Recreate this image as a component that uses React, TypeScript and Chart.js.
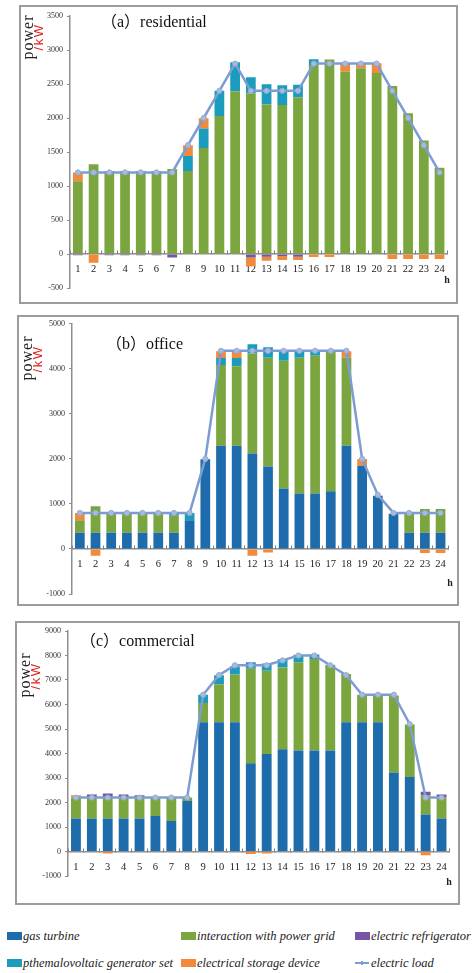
import React, { useEffect, useRef } from "react";
import { Chart, registerables } from "chart.js";
Chart.register(...registerables);

const hours = ["1","2","3","4","5","6","7","8","9","10","11","12","13","14","15","16","17","18","19","20","21","22","23","24"];

// (a) residential
const resGas = [0,0,0,0,0,0,0,0,0,0,0,0,0,0,0,0,0,0,0,0,0,0,0,0];
const resGrid = [1070,1320,1220,1220,1220,1220,1250,1220,1560,2030,2390,2360,2200,2190,2300,2780,2860,2680,2730,2660,2470,2070,1670,1270];
const resPv = [0,0,0,0,0,0,0,220,285,370,430,240,295,290,190,85,0,0,0,0,0,0,0,0];
const resRef = [-20,0,-20,-20,-20,-20,-50,0,0,0,0,-50,-40,-30,-40,0,0,0,0,0,0,0,0,0];
const resSto = [130,-130,0,0,0,0,0,160,150,0,0,-130,-60,-60,-50,-45,-45,120,70,145,-75,-75,-75,-75];
const resLoad = [1200,1200,1200,1200,1200,1200,1200,1600,2000,2400,2800,2400,2400,2400,2400,2800,2800,2800,2800,2800,2400,2000,1600,1200];

// (b) office
const offGas = [360,360,360,360,360,360,360,640,1990,2290,2290,2120,1830,1340,1230,1230,1280,2290,1850,1180,780,360,360,360];
const offGrid = [280,590,440,440,440,440,380,0,0,1795,1765,2220,2415,2840,3015,3060,3110,1960,0,0,0,420,530,530];
const offPv = [0,0,0,0,0,0,60,160,0,155,185,205,235,210,150,100,0,0,0,0,0,0,0,0];
const offRef = [0,0,0,0,0,0,0,0,0,0,0,0,0,0,0,0,0,0,0,0,0,0,0,0];
const offSto = [160,-150,0,0,0,0,0,0,0,150,150,-150,-80,-20,-20,-20,-20,140,150,0,0,0,-90,-90];
const offLoad = [800,800,800,800,800,800,800,800,2000,4400,4400,4400,4400,4400,4400,4400,4400,4400,2000,1200,800,800,800,800];

// (c) commercial
const comGas = [1350,1350,1350,1350,1350,1450,1240,2060,5280,5280,5280,3600,3980,4170,4120,4120,4120,5280,5280,5280,3220,3040,1510,1350];
const comGrid = [850,850,850,850,850,750,960,140,780,1550,1940,3860,3400,3340,3600,3740,3500,1960,1120,1120,3150,2140,790,850];
const comPv = [0,0,0,0,0,0,0,0,340,360,330,260,290,340,310,180,0,0,0,0,0,0,0,0];
const comRef = [0,130,170,130,100,0,0,0,0,0,0,0,0,0,0,0,0,0,0,0,0,0,135,130];
const comSto = [100,0,-80,0,0,0,0,0,0,0,0,-100,-80,0,0,0,0,0,0,0,0,0,-150,0];
const comLoad = [2200,2200,2200,2200,2200,2200,2200,2200,6400,7200,7600,7600,7600,7800,8000,8000,7600,7200,6400,6400,6400,5200,2200,2200];

const seriesNames = ["gas turbine","interaction with power grid","electric refrigerator","pthemalovoltaic generator set","electrical storage device","electric load"];

const C_GAS = "#1F6CAD";
const C_GRID = "#7BA63F";
const C_REF = "#7656A3";
const C_PV = "#1C9CBD";
const C_STO = "#F18A3B";
const C_LOAD = "#7D9DD2";

const SERIF = "'Liberation Serif', 'DejaVu Serif', serif";

type PanelCfg = {
  box: { l: number; t: number; w: number; h: number };
  area: { x0: number; x1: number; y0: number; y1: number };
  min: number; max: number; step: number;
  gas: number[]; grid: number[]; pv: number[]; ref: number[]; sto: number[]; load: number[];
};

const panels: PanelCfg[] = [
  { box: { l: 19, t: 5, w: 439, h: 299 }, area: { x0: 70, x1: 448, y0: 16, y1: 288 }, min: -500, max: 3500, step: 500,
    gas: resGas, grid: resGrid, pv: resPv, ref: resRef, sto: resSto, load: resLoad },
  { box: { l: 17, t: 315, w: 442, h: 291 }, area: { x0: 72, x1: 450, y0: 321, y1: 594 }, min: -1000, max: 5000, step: 1000,
    gas: offGas, grid: offGrid, pv: offPv, ref: offRef, sto: offSto, load: offLoad },
  { box: { l: 15, t: 621, w: 445, h: 284 }, area: { x0: 68, x1: 450, y0: 631, y1: 876 }, min: -1000, max: 9000, step: 1000,
    gas: comGas, grid: comGrid, pv: comPv, ref: comRef, sto: comSto, load: comLoad },
];

const Y_W = 40;

function Panel({ cfg }: { cfg: PanelCfg }) {
  const ref = useRef<HTMLCanvasElement>(null);
  useEffect(() => {
    const { box, area } = cfg;
    const bar = (label: string, data: number[], color: string) => ({
      type: "bar" as const, label, data, backgroundColor: color, borderWidth: 0,
      barPercentage: 0.62, categoryPercentage: 1, order: 1,
    });
    const chart = new Chart(ref.current!, {
      type: "bar",
      data: {
        labels: hours,
        datasets: [
          bar(seriesNames[0], cfg.gas, C_GAS),
          bar(seriesNames[1], cfg.grid, C_GRID),
          bar(seriesNames[3], cfg.pv, C_PV),
          bar(seriesNames[2], cfg.ref, C_REF),
          bar(seriesNames[4], cfg.sto, C_STO),
          {
            type: "line" as const, label: seriesNames[5], data: cfg.load, stack: "load", order: 0,
            borderColor: C_LOAD, borderWidth: 2.5, pointRadius: 2.6, pointStyle: "circle",
            pointBackgroundColor: "#A8BBDC", pointBorderColor: "#93AAD6", pointBorderWidth: 1, tension: 0,
          } as any,
        ],
      },
      options: {
        responsive: false,
        animation: false,
        maintainAspectRatio: false,
        layout: {
          padding: {
            left: area.x0 - box.l - Y_W,
            right: box.l + box.w - area.x1,
            top: area.y0 - box.t,
            bottom: box.t + box.h - area.y1,
          },
        },
        plugins: { legend: { display: false }, tooltip: { enabled: false }, title: { display: false } },
        scales: {
          x: {
            stacked: true,
            position: { y: 0 } as any,
            offset: true,
            grid: { display: true, drawOnChartArea: false, drawTicks: true, tickLength: -4, color: "#7A7A7A", offset: true },
            border: { display: true, color: "#8E8E8E", width: 1.5 },
            ticks: { color: "#222", font: { family: SERIF, size: 10.5 }, padding: 13, maxRotation: 0, autoSkip: false },
          },
          y: {
            stacked: true,
            min: cfg.min, max: cfg.max,
            grid: { display: true, drawOnChartArea: false, drawTicks: true, tickLength: 3, color: "#8E8E8E" },
            border: { display: true, color: "#8E8E8E", width: 1.5 },
            ticks: { stepSize: cfg.step, color: "#333", font: { family: SERIF, size: 8 }, padding: 4, callback: (v: any) => String(v) },
            afterFit: (s: any) => { s.width = Y_W; },
          },
        },
      },
    });
    return () => chart.destroy();
  }, []);
  const { box } = cfg;
  return (
    <div style={{ position: "absolute", left: box.l, top: box.t, width: box.w, height: box.h }}>
      <canvas ref={ref} width={box.w} height={box.h} style={{ display: "block", width: box.w, height: box.h }} />
      <div style={{ position: "absolute", left: 0, top: 0, width: box.w, height: box.h, border: "2px solid #9C9C9C", boxSizing: "border-box", pointerEvents: "none" }} />
    </div>
  );
}

const titles = [
  { text: "（a）residential", x: 101, y: 22 },
  { text: "（b）office", x: 106, y: 344 },
  { text: "（c）commercial", x: 80, y: 641 },
];
const yTitles = [
  { px: 28, py: 37, kx: 38, ky: 37 },
  { px: 27, py: 358, kx: 37, ky: 359 },
  { px: 25, py: 675, kx: 35, ky: 676 },
];
const hLabels = [
  { x: 447, y: 279 },
  { x: 450, y: 582 },
  { x: 449, y: 881 },
];

const legendItems = [
  { name: seriesNames[0], color: C_GAS, x: 7, y: 936, line: false },
  { name: seriesNames[1], color: C_GRID, x: 181, y: 936, line: false },
  { name: seriesNames[2], color: C_REF, x: 355, y: 936, line: false },
  { name: seriesNames[3], color: C_PV, x: 7, y: 963, line: false },
  { name: seriesNames[4], color: C_STO, x: 181, y: 963, line: false },
  { name: seriesNames[5], color: C_LOAD, x: 355, y: 963, line: true },
];

export default function App() {
  return (
    <div style={{ position: "absolute", left: 0, top: 0, width: 474, height: 973, background: "#fff", overflow: "hidden" }}>
      {panels.map((p, i) => <Panel key={i} cfg={p} />)}
      {titles.map((t, i) => (
        <div key={"t" + i} style={{ position: "absolute", left: t.x, top: t.y - 9, fontFamily: "'Liberation Serif', 'Noto Sans CJK SC', serif", fontSize: 16, lineHeight: "18px", color: "#111", whiteSpace: "nowrap" }}>{t.text}</div>
      ))}
      {yTitles.map((t, i) => (
        <React.Fragment key={"y" + i}>
          <div style={{ position: "absolute", left: t.px, top: t.py, transform: "translate(-50%, -50%) rotate(-90deg)", fontFamily: SERIF, fontSize: 16, letterSpacing: 1, lineHeight: "16px", color: "#222", whiteSpace: "nowrap" }}>power</div>
          <div style={{ position: "absolute", left: t.kx, top: t.ky, transform: "translate(-50%, -50%) rotate(-90deg)", fontFamily: "'Liberation Sans', sans-serif", fontSize: 13, letterSpacing: 1.5, lineHeight: "13px", color: "#E0201B", whiteSpace: "nowrap" }}>/kW</div>
        </React.Fragment>
      ))}
      {hLabels.map((h, i) => (
        <div key={"h" + i} style={{ position: "absolute", left: h.x, top: h.y, transform: "translate(-50%, -50%)", fontFamily: SERIF, fontSize: 10, fontWeight: "bold", color: "#222" }}>h</div>
      ))}
      {legendItems.map((it, i) => (
        <div key={"l" + i} style={{ position: "absolute", left: it.x, top: it.y - 9, height: 18, display: "flex", alignItems: "center", whiteSpace: "nowrap" }}>
          {it.line ? (
            <div style={{ width: 14, height: 1.5, background: it.color, marginRight: 2, position: "relative" }}>
              <div style={{ position: "absolute", left: 6, top: -1, width: 2, height: 3.5, background: it.color }} />
            </div>
          ) : (
            <div style={{ width: 15, height: 8, background: it.color, marginRight: 1 }} />
          )}
          <span style={{ fontFamily: SERIF, fontStyle: "italic", fontSize: 12.5, color: "#222" }}>{it.name}</span>
        </div>
      ))}
    </div>
  );
}
